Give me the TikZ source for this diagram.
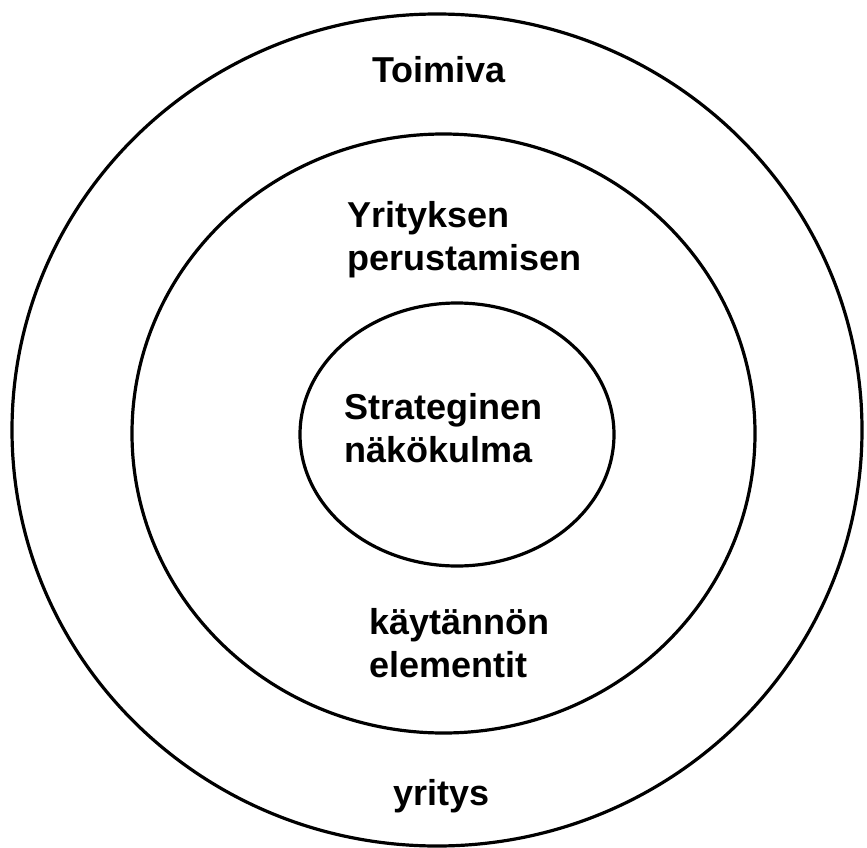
\documentclass[tikz,border=0pt]{standalone}
\usepackage{fontspec}
\setmainfont{Liberation Sans}
\usetikzlibrary{positioning}

\begin{document}
\begin{tikzpicture}[
    x=1pt, y=-1pt,
    ring/.style={draw, line width=3.2pt},
    word/.style={font=\fontsize{36}{43}\selectfont\bfseries, align=left, anchor=base west, inner sep=0pt},
]
\useasboundingbox (0,0) rectangle (867,848);

% rings
\draw[ring] (437,430) ellipse [x radius=425, y radius=416];
\draw[ring] (443.5,433.5) ellipse [x radius=311.5, y radius=299.5];
\draw[ring] (457,434.5) ellipse [x radius=157, y radius=131.5];

% labels (base = last line)
\node[word] (toimiva) at (372,83) {Toimiva};
\node[word] (perust) at (347,270) {Yrityksen\\perustamisen};
\node[word] (strat) at (344,462) {Strateginen\\näkökulma};
\node[word] (kayt) at (369,677) {käytännön\\elementit};
\node[word] (yritys) at (393,805) {yritys};
\end{tikzpicture}
\end{document}
